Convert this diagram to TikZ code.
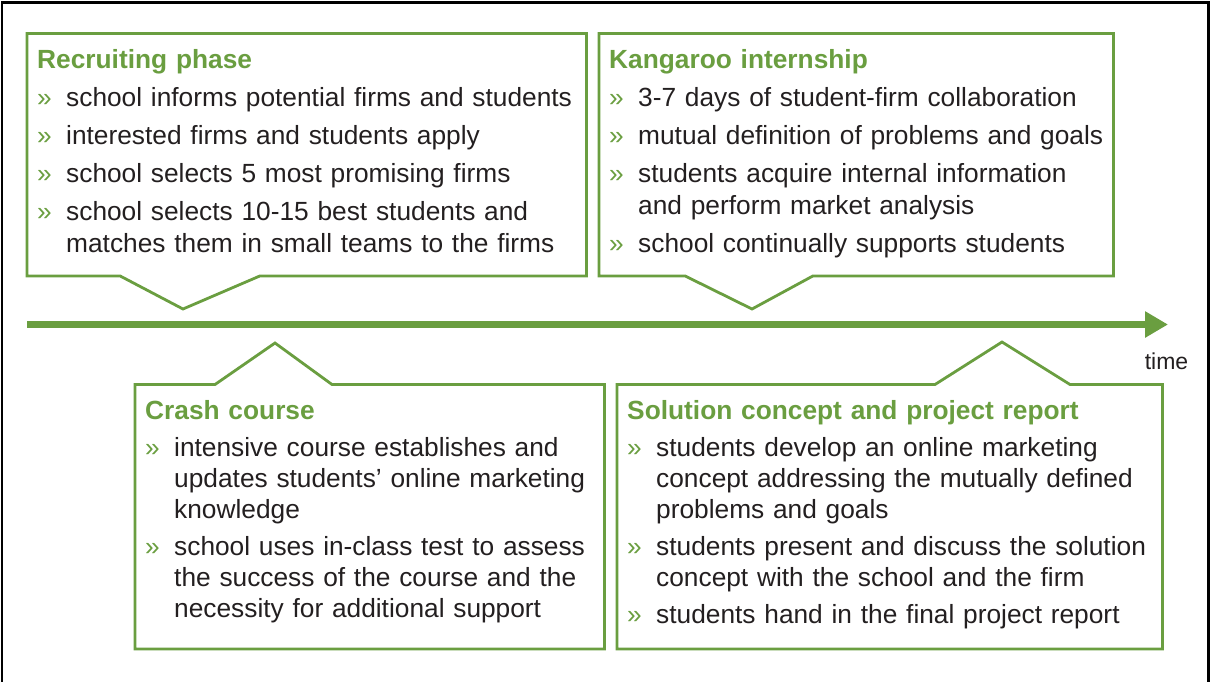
\documentclass[tikz,border=0pt]{standalone}
\usepackage{fontspec}
\setmainfont{Liberation Sans}
\usetikzlibrary{arrows.meta}
\definecolor{tgreen}{RGB}{106,158,64}
\definecolor{ink}{RGB}{35,31,32}
\newcommand{\boxhead}[1]{\leftskip10pt\rightskip0pt plus 1fil\parfillskip0pt plus 1fil{\bfseries\color{tgreen}#1}\par}
\newcommand{\bul}{\par\vskip6pt\hangindent29pt\hangafter1\noindent\makebox[29pt][l]{\textcolor{tgreen}{»}}}
\tikzset{
	phase/.style={
		anchor=north west,
		inner sep=0pt,
		text=ink,
		font=\fontsize{26.3}{32}\selectfont,
		text height=35pt
	}
}

\begin{document}
\begin{tikzpicture}[x=1pt,y=-1pt]
		\tikzstyle{outline}=[draw=tgreen, line width=2.8pt, line join=miter]
		\tikzstyle{timeline}=[tgreen, line width=7.5pt, -{Triangle[length=23pt,width=25pt]}]
		\tikzstyle{tight}=[font=\fontsize{26.3}{31}\selectfont]
		\useasboundingbox (0,0) rectangle (1212,681);
		\draw[line width=2.5pt] (2,2.5) rectangle (1208.5,720);
		
		\node[phase, text width=559pt, text depth=207pt] (rec) at (27,33.5) {\boxhead{Recruiting phase}
			\bul school informs potential firms and students
			\bul interested firms and students apply
			\bul school selects 5 most promising firms
			\bul school selects 10-15 best students and\newline matches them in small teams to the firms\par};
		\node[phase, text width=514pt, text depth=207pt] (kang) at (599,33.5) {\boxhead{Kangaroo internship}
			\bul 3-7 days of student-firm collaboration
			\bul mutual definition of problems and goals
			\bul students acquire internal information\newline and perform market analysis
			\bul school continually supports students\par};
		\node[phase, tight, text width=469pt, text depth=229pt] (crash) at (135,384.5) {\boxhead{Crash course}
			\bul intensive course establishes and\newline updates students’ online marketing\newline knowledge
			\bul school uses in-class test to assess\newline the success of the course and the\newline necessity for additional support\par};
		\node[phase, tight, text width=545pt, text depth=229pt] (sol) at (617,384.5) {\boxhead{Solution concept and project report}
			\bul students develop an online marketing\newline concept addressing the mutually defined\newline problems and goals
			\bul students present and discuss the solution\newline concept with the school and the firm
			\bul students hand in the final project report\par};
		
		\coordinate (recTip) at (183,309);
		\coordinate (kangTip) at (752,309);
		\coordinate (crashTip) at (275,343);
		\coordinate (solTip) at (1002,342);
		
		\draw[outline] (rec.north west) -- (rec.north east) -- (rec.south east) -- ([xshift=233pt]rec.south west) -- (recTip) -- ([xshift=93pt]rec.south west) -- (rec.south west) -- cycle;
		\draw[outline] (kang.north west) -- (kang.north east) -- (kang.south east) -- ([xshift=214pt]kang.south west) -- (kangTip) -- ([xshift=86pt]kang.south west) -- (kang.south west) -- cycle;
		\draw[outline] (crash.north west) -- ([xshift=80pt]crash.north west) -- (crashTip) -- ([xshift=197pt]crash.north west) -- (crash.north east) -- (crash.south east) -- (crash.south west) -- cycle;
		\draw[outline] (sol.north west) -- ([xshift=318pt]sol.north west) -- (solTip) -- ([xshift=453pt]sol.north west) -- (sol.north east) -- (sol.south east) -- (sol.south west) -- cycle;
		
		% time axis
		\coordinate (t0) at (27,324.5);
		\coordinate (t1) at (1168,324.5);
		\draw[timeline] (t0) -- (t1);
		\node[font=\fontsize{23}{27}\selectfont, text=ink] (time) at (1166.5,361) {time};
		
\end{tikzpicture}
\end{document}
